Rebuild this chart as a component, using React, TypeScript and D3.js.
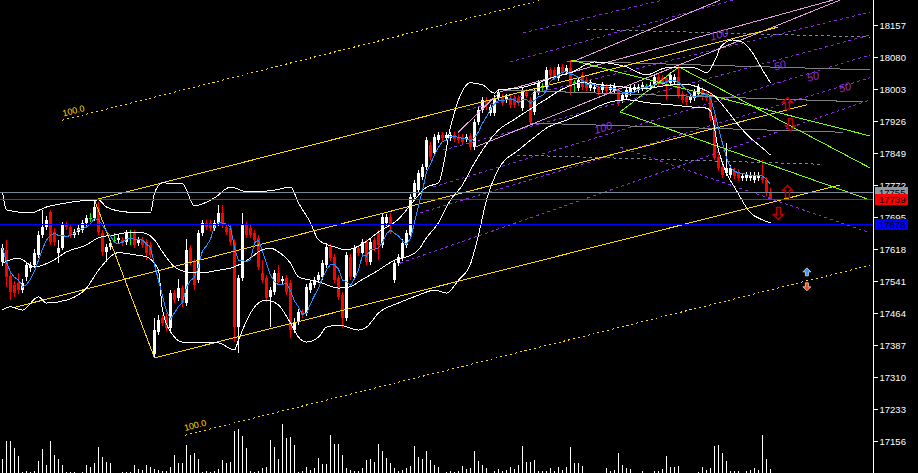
import React, { useRef, useEffect } from "react";
import * as d3 from "d3";

type Pt = [number, number];
type Seg = [number, number, number, number]; // bar1, price1, bar2, price2
type Label = { bar: number; price: number; text: string };

const W = 918;
const H = 473;

const priceTicks = [18157, 18080, 18003, 17926, 17849, 17772, 17695, 17618, 17541, 17464, 17387, 17310, 17233, 17156];
const levelPrices = [17755, 17739, 17678]; // grey, red (bid), blue

// [open, high, low, close], one per bar
const candles: [number, number, number, number][] = [
  [17587, 17630, 17577, 17621], [17616, 17640, 17527, 17551], [17553, 17563, 17495, 17515], [17531, 17541, 17503, 17512],
  [17536, 17560, 17510, 17519], [17519, 17546, 17512, 17536], [17551, 17587, 17541, 17579], [17572, 17587, 17563, 17579],
  [17579, 17618, 17572, 17609], [17604, 17661, 17596, 17652], [17652, 17712, 17645, 17671], [17671, 17697, 17664, 17688],
  [17707, 17712, 17628, 17635], [17659, 17669, 17625, 17635], [17609, 17640, 17584, 17621], [17621, 17683, 17616, 17676],
  [17678, 17683, 17664, 17671], [17671, 17678, 17645, 17652], [17652, 17666, 17645, 17659], [17659, 17676, 17652, 17669],
  [17664, 17688, 17657, 17681], [17681, 17700, 17673, 17693], [17693, 17705, 17683, 17693], [17693, 17736, 17685, 17719],
  [17717, 17731, 17652, 17659], [17657, 17664, 17601, 17611], [17611, 17630, 17587, 17623], [17623, 17640, 17616, 17633],
  [17640, 17657, 17633, 17640], [17640, 17652, 17633, 17645], [17640, 17647, 17625, 17633], [17635, 17664, 17628, 17657],
  [17645, 17664, 17628, 17645], [17657, 17664, 17621, 17628], [17633, 17647, 17625, 17640], [17640, 17647, 17621, 17628],
  [17635, 17642, 17591, 17609], [17628, 17635, 17596, 17604], [17365, 17452, 17356, 17423], [17418, 17459, 17411, 17447],
  [17452, 17459, 17433, 17440], [17454, 17464, 17421, 17428], [17428, 17519, 17421, 17512], [17512, 17519, 17488, 17495],
  [17500, 17546, 17493, 17524], [17524, 17531, 17479, 17488], [17488, 17642, 17481, 17616], [17621, 17628, 17579, 17587],
  [17587, 17594, 17519, 17531], [17543, 17664, 17536, 17657], [17657, 17688, 17649, 17681], [17681, 17688, 17664, 17671],
  [17681, 17688, 17661, 17669], [17669, 17688, 17661, 17681], [17681, 17724, 17673, 17705], [17705, 17724, 17669, 17676],
  [17671, 17678, 17652, 17659], [17669, 17676, 17628, 17635], [17635, 17642, 17394, 17430], [17430, 17555, 17368, 17548],
  [17548, 17705, 17541, 17676], [17676, 17683, 17645, 17652], [17669, 17676, 17645, 17652], [17657, 17664, 17633, 17640],
  [17645, 17652, 17567, 17575], [17560, 17591, 17536, 17543], [17548, 17555, 17491, 17500], [17503, 17527, 17430, 17519],
  [17515, 17567, 17507, 17560], [17560, 17579, 17536, 17539], [17541, 17553, 17534, 17546], [17548, 17555, 17507, 17515],
  [17536, 17543, 17404, 17423], [17423, 17452, 17416, 17442], [17442, 17474, 17435, 17466], [17466, 17474, 17452, 17459],
  [17464, 17534, 17457, 17527], [17519, 17543, 17512, 17536], [17531, 17551, 17524, 17543], [17543, 17563, 17536, 17555],
  [17551, 17591, 17543, 17584], [17579, 17633, 17572, 17623], [17623, 17630, 17589, 17596], [17599, 17606, 17536, 17543],
  [17548, 17555, 17495, 17503], [17507, 17515, 17428, 17452], [17452, 17611, 17445, 17604], [17599, 17606, 17543, 17551],
  [17551, 17628, 17543, 17621], [17621, 17628, 17601, 17609], [17609, 17642, 17601, 17635], [17635, 17642, 17579, 17587],
  [17587, 17642, 17579, 17635], [17640, 17647, 17613, 17621], [17657, 17664, 17591, 17628], [17628, 17702, 17621, 17695],
  [17681, 17702, 17673, 17695], [17695, 17705, 17654, 17676], [17543, 17591, 17536, 17584], [17584, 17606, 17577, 17599],
  [17596, 17642, 17589, 17633], [17628, 17664, 17621, 17657], [17652, 17750, 17645, 17743], [17743, 17784, 17736, 17777],
  [17760, 17808, 17753, 17801], [17791, 17822, 17784, 17815], [17815, 17887, 17808, 17880], [17868, 17875, 17832, 17840],
  [17849, 17895, 17842, 17887], [17880, 17899, 17873, 17892], [17892, 17899, 17878, 17885], [17885, 17899, 17878, 17892],
  [17885, 17899, 17878, 17892], [17892, 17899, 17875, 17883], [17887, 17895, 17873, 17880], [17887, 17895, 17868, 17875],
  [17883, 17895, 17875, 17887], [17890, 17897, 17856, 17863], [17863, 17930, 17856, 17923], [17923, 17960, 17916, 17953],
  [17953, 17984, 17945, 17977], [17977, 17984, 17953, 17965], [17945, 17967, 17938, 17960], [17945, 17989, 17938, 17981],
  [17981, 18003, 17974, 17996], [17984, 17991, 17962, 17969], [17977, 17991, 17969, 17984], [17981, 17989, 17957, 17965],
  [17981, 17989, 17957, 17965], [17981, 17989, 17962, 17969], [17957, 18008, 17950, 18001], [17996, 18003, 17981, 17989],
  [17977, 17984, 17919, 17923], [17948, 18003, 17940, 17996], [17996, 18025, 17989, 18018], [18008, 18018, 17996, 18008],
  [18008, 18056, 18001, 18049], [18049, 18056, 18030, 18037], [18049, 18056, 18025, 18032], [18030, 18063, 18022, 18056],
  [18056, 18063, 18037, 18044], [18044, 18061, 18037, 18054], [18054, 18073, 17989, 18008], [18020, 18025, 17993, 18020],
  [18005, 18032, 17998, 18025], [18037, 18044, 18001, 18008], [18025, 18032, 17998, 18005], [18005, 18027, 17998, 18020],
  [18003, 18015, 17996, 18008], [18005, 18013, 17989, 17996], [18001, 18020, 17993, 18013], [18008, 18015, 17991, 17998],
  [18001, 18015, 17993, 18008], [17998, 18018, 17991, 18010], [18001, 18008, 17962, 17969], [17977, 17996, 17969, 17989],
  [17984, 18008, 17977, 18001], [17993, 18013, 17986, 18005], [18001, 18015, 17993, 18008], [18001, 18015, 17993, 18008],
  [18005, 18020, 17998, 18013], [18008, 18015, 18001, 18008], [18008, 18020, 18001, 18013], [18013, 18039, 18005, 18032],
  [18032, 18039, 18010, 18018], [18030, 18037, 18010, 18018], [18030, 18037, 17977, 18018], [18018, 18044, 18010, 18037],
  [18020, 18039, 18013, 18032], [18032, 18058, 17981, 17989], [17991, 17998, 17969, 17977], [17984, 17991, 17965, 17972],
  [17977, 17991, 17969, 17984], [17981, 18003, 17974, 17996], [17991, 18015, 17984, 18008], [18001, 18008, 17977, 17984],
  [17993, 18001, 17974, 17981], [17989, 17996, 17926, 17933], [17933, 17940, 17832, 17837], [17840, 17847, 17806, 17813],
  [17815, 17822, 17789, 17796], [17801, 17873, 17794, 17813], [17796, 17820, 17789, 17813], [17806, 17813, 17787, 17794],
  [17803, 17810, 17782, 17789], [17789, 17801, 17782, 17794], [17789, 17803, 17782, 17796], [17789, 17803, 17782, 17796],
  [17784, 17803, 17777, 17796], [17789, 17803, 17782, 17796], [17791, 17832, 17777, 17784], [17784, 17791, 17746, 17753],
  [17753, 17765, 17736, 17739],
];

// tick volume per bar (hundreds)
const volumes = [
  14, 32, 32, 25, 17, 1, 2, 1, 2, 12, 24, 8, 32, 18, 14, 8, 1, 1, 1, 0, 1, 8, 6, 10, 26, 16, 11, 10, 0, 0,
  1, 1, 1, 8, 4, 3, 8, 6, 4, 3, 2, 2, 6, 18, 10, 10, 28, 18, 20, 14, 1, 2, 1, 2, 4, 13, 10, 11, 42, 44,
  37, 25, 2, 1, 2, 5, 6, 33, 26, 14, 49, 35, 36, 28, 1, 2, 6, 3, 5, 15, 9, 9, 38, 29, 29, 18, 5, 3, 2, 2,
  5, 13, 14, 11, 29, 22, 15, 10, 5, 2, 3, 5, 7, 27, 16, 14, 22, 13, 8, 6, 0, 1, 2, 1, 2, 7, 4, 5, 22, 12,
  8, 5, 0, 2, 4, 2, 3, 6, 4, 8, 27, 11, 11, 13, 2, 2, 2, 5, 2, 6, 3, 6, 26, 10, 10, 7, 0, 0, 0, 0,
  0, 5, 2, 3, 20, 8, 5, 4, 0, 0, 2, 0, 0, 2, 2, 4, 17, 6, 6, 7, 0, 0, 0, 0, 1, 6, 3, 5, 27, 28,
  20, 12, 2, 2, 2, 0, 2, 3, 5, 3, 38, 14, 4,
];

// Bollinger band lines: [bar, price]
const bbUpper: Pt[] = [
  [0, 17756], [1, 17712], [7, 17705], [11, 17719], [16, 17729], [24, 17736], [26, 17719], [31, 17707], [37, 17705],
  [38, 17753], [40, 17777], [45, 17775], [48, 17722], [53, 17741], [57, 17767], [61, 17756], [67, 17758], [72, 17767],
  [74, 17729], [77, 17681], [79, 17640], [83, 17623], [86, 17616], [90, 17630], [94, 17659], [99, 17690], [103, 17736],
  [106, 17767], [109, 17777], [112, 17911], [114, 17977], [117, 18018], [120, 18013], [123, 17993], [124, 18001],
  [129, 18005], [134, 18018], [138, 18032], [142, 18042], [148, 18068], [156, 18056], [161, 18037], [166, 18054],
  [173, 18054], [176, 18042], [178.5, 18080], [179.5, 18104], [182.5, 18121], [185, 18116], [187.5, 18090],
  [190, 18049], [192, 18018],
];
const bbMiddle: Pt[] = [
  [0, 17584], [4, 17596], [8, 17575], [12, 17587], [16, 17611], [21, 17628], [24, 17645], [28, 17652], [31, 17657],
  [35, 17657], [38, 17640], [40, 17611], [43, 17575], [46, 17563], [49, 17560], [54, 17567], [58, 17575], [62, 17596],
  [64, 17611], [67, 17620], [69, 17611], [72, 17584], [74, 17551], [77, 17543], [79, 17539], [84, 17524], [87, 17527],
  [89, 17539], [94, 17567], [98, 17591], [101, 17599], [104, 17616], [106, 17645], [109, 17681], [112, 17736],
  [115, 17772], [117, 17808], [120, 17856], [124, 17904], [128, 17930], [132, 17955], [136, 17979], [140, 18003],
  [145, 18018], [150, 18013], [155, 18008], [160, 18003], [165, 18010], [170, 18015], [175, 18003], [178, 17986],
  [181, 17953], [184, 17916], [187, 17885], [190, 17861], [192, 17844],
];
const bbLower: Pt[] = [
  [0, 17471], [2, 17479], [5, 17471], [9, 17503], [11, 17488], [16, 17495], [21, 17524], [24, 17567], [29, 17609],
  [33, 17604], [36, 17599], [39, 17567], [40, 17471], [43, 17406], [45, 17394], [54, 17392], [58, 17375], [59, 17399],
  [62, 17464], [64, 17488], [66, 17495], [69, 17483], [72, 17440], [74, 17406], [76, 17394], [79, 17406], [81, 17430],
  [84, 17435], [89, 17423], [91, 17430], [94, 17464], [99, 17488], [104, 17507], [108, 17519], [111, 17512],
  [114, 17543], [117, 17582], [119, 17652], [121, 17736], [124, 17810], [129, 17856], [133, 17887], [136, 17909],
  [141, 17928], [146, 17948], [152, 17972], [156, 17977], [162, 17969], [167, 17965], [172, 17960], [176, 17957],
  [177, 17950], [179, 17856], [181, 17800], [183, 17767], [187, 17705], [190, 17688], [192, 17681],
];

// drawn objects: [bar1, price1, bar2, price2]
const yellowLines: Seg[] = [
  [2.4, 17476, 201.1, 17965],
  [23, 17736, 193.9, 18152],
  [23, 17736, 38, 17356],
  [38, 17356, 209.4, 17772],
];
const yellowDashed: Seg[] = [
  [14.9, 17928, 134.9, 18217],
  [45.6, 17170, 216.9, 17579],
];
const limeLines: Seg[] = [
  [142, 18073, 216.9, 17890],
  [169.1, 18056, 216.9, 17813],
  [154.4, 17948, 216.9, 17736],
  [154.4, 17948, 169.1, 18056],
];
const pinkLines: Seg[] = [
  [142.4, 18068, 179.4, 18217],
  [124.4, 17996, 207.6, 18217],
  [118.1, 17863, 209.4, 18217],
  [113.9, 17899, 124.4, 17996],
];
const greyLines: Seg[] = [
  [141.1, 18070, 216.9, 18049],
  [124.4, 18001, 215.1, 17972],
  [131.9, 17921, 210.1, 17899],
];
const greyDashed: Seg[] = [
  [146.1, 18147, 216.9, 18128],
  [128.6, 17844, 204.4, 17822],
];
const purpleDashed: Seg[] = [
  [130.1, 18138, 165.1, 18217],
  [126.9, 18068, 182.6, 18217],
  [116.1, 17953, 216.9, 18188],
  [110.1, 17856, 216.9, 18133],
  [107.6, 17767, 216.9, 18085],
  [104.4, 17705, 216.9, 18030],
  [99.4, 17584, 216.9, 17977],
  [154.4, 17863, 216.9, 17657],
];
const goldLabels: Label[] = [
  { bar: 15.2, price: 17937, text: "100.0" },
  { bar: 45.6, price: 17180, text: "100.0" },
];
const purpleLabels: Label[] = [
  { bar: 148.2, price: 17895, text: "100" },
  { bar: 177.2, price: 18119, text: "100" },
  { bar: 193.1, price: 18047, text: "50" },
  { bar: 201.4, price: 18020, text: "50" },
  { bar: 209.4, price: 17994, text: "50" },
];
// hollow signal arrows: [bar, price, direction]
const signalArrows: [number, number, number][] = [
  [196.1, 17969, 1],
  [196.9, 17919, -1],
  [196.1, 17758, 1],
  [193.9, 17705, -1],
];
const tradeArrows: [number, number, number][] = [
  [201.1, 17563, 1],
  [201.1, 17527, -1],
];

const App: React.FC = () => {
  const svgRef = useRef<SVGSVGElement>(null);

  useEffect(() => {
    document.body.style.margin = "0";
    const svg = d3.select(svgRef.current);
    svg.selectAll("*").remove();

    const axisX = 873.5;
    const x = d3.scaleLinear().domain([0, 192]).range([2.5, 770.5]);
    const y = d3.scaleLinear().domain([17156, 18157]).range([441, 25]);
    const yv = d3.scaleLinear().domain([0, 50]).range([H, H - 50]);

    svg.append("rect").attr("width", W).attr("height", H).attr("fill", "#000");

    svg.append("defs").append("clipPath").attr("id", "plot")
      .append("rect").attr("width", 873).attr("height", H);

    const plot = svg.append("g").attr("clip-path", "url(#plot)").attr("shape-rendering", "crispEdges");

    // volumes
    plot.append("g").selectAll("line").data(volumes).enter().append("line")
      .attr("x1", (_, i) => x(i)).attr("x2", (_, i) => x(i))
      .attr("y1", H).attr("y2", d => yv(d))
      .attr("stroke", "#fff").attr("stroke-width", 1);

    // candles
    const cg = plot.append("g");
    candles.forEach(([o, h, l, c], i) => {
      const col = o === c ? "#00ff00" : c > o ? "#ffffff" : "#ff0000";
      cg.append("line").attr("x1", x(i)).attr("x2", x(i)).attr("y1", y(h)).attr("y2", y(l)).attr("stroke", col);
      if (o === c) {
        cg.append("line").attr("x1", x(i) - 1.5).attr("x2", x(i) + 1.5).attr("y1", Math.round(y(o)) + 0.5).attr("y2", Math.round(y(o)) + 0.5).attr("stroke", col);
      } else {
        const top = Math.round(y(Math.max(o, c)));
        const bot = Math.round(y(Math.min(o, c)));
        cg.append("rect").attr("x", x(i) - 1.5).attr("width", 3).attr("y", top).attr("height", Math.max(1, bot - top)).attr("fill", col);
      }
    });

    const segs = (data: Seg[], color: string, dash: string | null) => {
      plot.append("g").selectAll("line").data(data).enter().append("line")
        .attr("x1", d => x(d[0])).attr("y1", d => y(d[1]))
        .attr("x2", d => x(d[2])).attr("y2", d => y(d[3]))
        .attr("stroke", color).attr("stroke-width", 1)
        .attr("stroke-dasharray", dash);
    };

    segs(purpleDashed, "#8a2be2", "3 3");
    segs(greyDashed, "#778899", "3 3");
    segs(greyLines, "#808080", null);
    segs(pinkLines, "#dda0dd", null);
    segs(yellowDashed, "#ffd700", "2 3");
    segs(yellowLines, "#ffd700", null);
    segs(limeLines, "#7cfc00", null);

    // bollinger bands
    const line = d3.line<Pt>().x(d => x(d[0])).y(d => y(d[1])).curve(d3.curveMonotoneX);
    [bbUpper, bbMiddle, bbLower].forEach(band => {
      plot.append("path").datum(band).attr("d", line).attr("fill", "none").attr("stroke", "#fff").attr("stroke-width", 1);
    });

    // 5-bar moving average of the closes
    const closes = candles.map(d => d[3]);
    const ma: Pt[] = closes.map((_, i) => [i, d3.mean(closes.slice(Math.max(0, i - 4), i + 1)) as number]);
    plot.append("path").datum(ma).attr("d", d3.line<Pt>().x(d => x(d[0])).y(d => y(d[1])))
      .attr("fill", "none").attr("stroke", "#1e90ff").attr("stroke-width", 1);

    // horizontal levels
    const levelColors = ["#778899", "#ff0000", "#0000ff"];
    plot.append("g").selectAll("line").data(levelPrices).enter().append("line")
      .attr("x1", 0).attr("x2", 873)
      .attr("y1", d => Math.round(y(d)) + 0.5).attr("y2", d => Math.round(y(d)) + 0.5)
      .attr("stroke", (_, i) => levelColors[i]).attr("stroke-width", 1);

    // labels on objects
    const lab = svg.append("g").attr("clip-path", "url(#plot)");
    goldLabels.forEach(d => {
      lab.append("text").attr("transform", `translate(${x(d.bar)},${y(d.price)}) rotate(-14)`)
        .attr("fill", "#ffd700").attr("font-family", "Liberation Sans, Arial, sans-serif")
        .attr("font-size", 9).text(d.text);
    });
    purpleLabels.forEach(d => {
      lab.append("text").attr("transform", `translate(${x(d.bar)},${y(d.price)}) rotate(-16)`)
        .attr("fill", "#9932cc").attr("font-family", "Liberation Sans, Arial, sans-serif")
        .attr("font-style", "italic").attr("font-size", 11).text(d.text);
    });

    // hollow arrows
    signalArrows.forEach(([b, p, dir]) => {
      const cx = Math.round(x(b)) + 0.5, cy = Math.round(y(p)) + 0.5;
      const s = dir;
      const pts: Pt[] = [[0, -6], [5, -1], [2, -1], [2, 6], [-2, 6], [-2, -1], [-5, -1]];
      lab.append("path")
        .attr("d", "M" + pts.map(([px, py]) => `${cx + px},${cy + py * s}`).join("L") + "Z")
        .attr("fill", "none").attr("stroke", "#c00000").attr("stroke-width", 1.5);
    });
    tradeArrows.forEach(([b, p, dir]) => {
      const cx = x(b), cy = y(p);
      const pts: Pt[] = [[0, -4], [4, 0], [1.5, 0], [1.5, 4], [-1.5, 4], [-1.5, 0], [-4, 0]];
      lab.append("path")
        .attr("d", "M" + pts.map(([px, py]) => `${cx + px},${cy + py * dir}`).join("L") + "Z")
        .attr("fill", dir > 0 ? "#3399ff" : "#ff4500").attr("stroke", "#dddddd").attr("stroke-width", 0.8);
    });

    // price axis
    svg.append("line").attr("x1", axisX).attr("x2", axisX).attr("y1", 0).attr("y2", H)
      .attr("stroke", "#fff").attr("shape-rendering", "crispEdges");
    const ax = svg.append("g").attr("transform", `translate(${axisX},0)`)
      .call(d3.axisRight(y).tickValues(priceTicks).tickFormat(d3.format("d")).tickSize(4).tickSizeOuter(0).tickPadding(2));
    ax.select(".domain").remove();
    ax.selectAll(".tick line").attr("stroke", "#fff").attr("shape-rendering", "crispEdges");
    ax.selectAll(".tick text").attr("fill", "#fff").attr("font-family", "Liberation Sans, Arial, sans-serif").attr("font-size", 9.5);

    // level price tags
    const tagColors = ["#8c98a6", "#ff0000", "#0000ff"];
    levelPrices.forEach((p, i) => {
      const cy = Math.round(y(p));
      svg.append("rect").attr("x", 875).attr("y", cy - 5).attr("width", 33).attr("height", 11)
        .attr("fill", tagColors[i]).attr("shape-rendering", "crispEdges");
      svg.append("text").attr("x", 879).attr("y", cy + 4).attr("fill", "#000")
        .attr("font-family", "Liberation Sans, Arial, sans-serif").attr("font-size", 9.5).text(d3.format("d")(p));
    });
  }, []);

  return <svg ref={svgRef} width={W} height={H} style={{ display: "block", position: "absolute", left: 0, top: 0 }} />;
};

export default App;
